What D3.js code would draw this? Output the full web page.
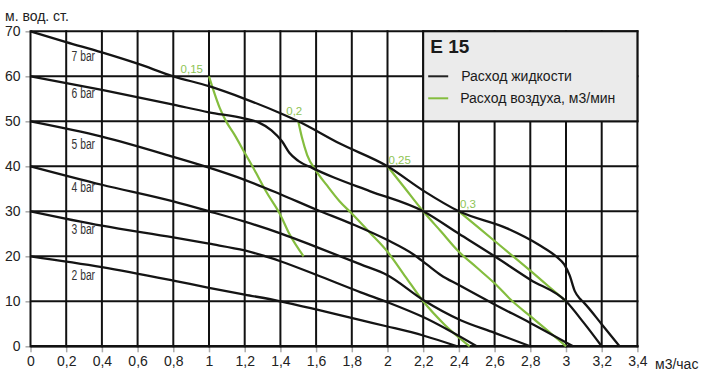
<!DOCTYPE html>
<html><head><meta charset="utf-8">
<script src="https://cdn.jsdelivr.net/npm/d3@7"></script>
<style>
body{margin:0;background:#fff;}
svg{display:block;}
text{font-family:"Liberation Sans",Arial,sans-serif;}
</style></head>
<body>
<svg id="chart" width="711" height="374"></svg>
<script>
// ---- data ----
const xTicks = [0,0.2,0.4,0.6,0.8,1,1.2,1.4,1.6,1.8,2,2.2,2.4,2.6,2.8,3,3.2,3.4];
const yTicks = [0,10,20,30,40,50,60,70];
const yTitle = "м. вод. ст.";
const xTitle = "м3/час";
const legendTitle = "E 15";
const legendLiquid = "Расход жидкости";
const legendAir = "Расход воздуха, м3/мин";

// liquid flow curves (x: m3/h, y: m water column)
const bar2 = [[0,20],[0.4,17.6],[0.8,14.6],[1,13],[1.2,11.5],[1.4,10],[1.6,8.2],[1.85,5.8],[2,4.4],[2.2,2.4],[2.39,0]];
const bar3 = [[0,30],[0.4,26.8],[0.8,24.2],[1,22.8],[1.2,21.3],[1.3,20.2],[1.4,18.9],[1.6,15.9],[1.85,12],[2,9.8],[2.2,6.5],[2.5,0]];
const bar4 = [[0,40],[0.4,35.9],[0.8,32.2],[1,30],[1.2,27.7],[1.4,25.1],[1.6,22.1],[1.85,18.2],[2,15.8],[2.2,10.3],[2.41,5.8],[2.6,3],[2.8,0]];
const bar5 = [[0,50],[0.4,46.6],[0.8,42.1],[1,39.7],[1.2,37],[1.4,33.8],[1.6,30.4],[1.8,27.2],[2,23.6],[2.15,20.3],[2.22,18.2],[2.3,15.8],[2.4,13.6],[2.6,9.3],[2.8,5.2],[3.04,0]];
const bar6 = [[0,60],[0.4,57],[0.8,53.7],[1,52],[1.2,50.6],[1.28,49.7],[1.35,48],[1.41,45.5],[1.45,43],[1.5,41.2],[1.58,39.6],[1.7,37.5],[1.9,34.5],[2.2,30],[2.4,25],[2.6,20],[2.8,14.8],[3,10],[3.1,5.2],[3.2,0]];
const bar7 = [[0,70],[0.2,67.6],[0.4,65.3],[0.6,62.8],[0.8,60],[1,57.8],[1.2,55],[1.4,51.8],[1.5,50],[1.73,45.1],[2,40],[2.2,34.6],[2.4,30],[2.67,26.2],[2.85,22.5],[2.95,19.8],[2.99,18.2],[3.02,15.8],[3.05,12.2],[3.08,10.5],[3.1,9.7],[3.2,4.9],[3.3,0]];
const liquidCurves = [bar2,bar3,bar4,bar5,bar6,bar7];
const pressureLabels = ["2 bar","3 bar","4 bar","5 bar","6 bar","7 bar"];
const pressureLabelX = [0.23,0.23,0.23,0.23,0.23,0.23];
const pressureLabelY = [14.7,25,34.3,43.8,55.1,63.3];

// air consumption curves (m3/min)
const air015 = [[1,60],[1.02,57.5],[1.06,53],[1.1,49.7],[1.14,47.2],[1.2,43],[1.26,38.8],[1.32,34.4],[1.4,29.2],[1.45,25],[1.53,20]];
const air02 = [[1.5,50],[1.52,46.5],[1.55,42.5],[1.6,39],[1.66,35.8],[1.73,32.3],[1.8,29.5],[1.9,25.3],[2,21],[2.1,15.5],[2.2,10],[2.32,4.8],[2.46,0]];
const air025 = [[2,40],[2.1,35],[2.2,30],[2.3,25.5],[2.4,21],[2.5,17.5],[2.6,14],[2.7,10],[2.8,6.7],[2.9,3.4],[3,0]];
const air03 = [[2.4,30],[2.6,23.4],[2.8,16.8],[2.9,13.4],[3,10]];
const airCurves = [air015,air02,air025,air03];
const airLabels = ["0,15","0,2","0,25","0,3"];

// ---- layout ----
const W = 711, H = 374;
const m = {left:30.5, right:73.6, top:31.3, bottom:27.7};
const svg = d3.select("#chart");
const x = d3.scaleLinear().domain([0,3.4]).range([m.left, W - m.right]);
const y = d3.scaleLinear().domain([0,70]).range([H - m.bottom, m.top]);
const fmt = d => String(+d.toFixed(1)).replace(".", ",");
const GREEN = "#84bd3e";

// ticks (gray, outside)
const xAxis = svg.append("g").attr("transform", `translate(0,${y(0)})`)
  .call(d3.axisBottom(x).tickValues(xTicks).tickSize(6).tickPadding(4).tickFormat(fmt));
xAxis.select(".domain").remove();
xAxis.selectAll("line").attr("stroke","#aaa").attr("stroke-width",1.5);
xAxis.selectAll("text").attr("font-size",14).attr("fill","#222")
  .style("font-family",'"Liberation Sans",Arial,sans-serif');

const yAxis = svg.append("g").attr("transform", `translate(${x(0)},0)`)
  .call(d3.axisLeft(y).tickValues(yTicks).tickSize(5).tickPadding(5).tickFormat(fmt));
yAxis.select(".domain").remove();
yAxis.selectAll("line").attr("stroke","#aaa").attr("stroke-width",1.5);
yAxis.selectAll("text").attr("font-size",14).attr("fill","#222")
  .style("font-family",'"Liberation Sans",Arial,sans-serif');

// grid
const grid = svg.append("g").attr("stroke","#111").attr("stroke-width",2);
grid.selectAll("line.v").data(xTicks).join("line").attr("class","v")
  .attr("x1",d=>x(d)).attr("x2",d=>x(d)).attr("y1",y(0)+1).attr("y2",y(70)-1);
grid.selectAll("line.h").data(yTicks).join("line").attr("class","h")
  .attr("x1",x(0)).attr("x2",x(3.4)+1).attr("y1",d=>y(d)).attr("y2",d=>y(d));
grid.append("line").attr("x1",x(0)).attr("x2",x(3.4)+1).attr("y1",y(0)).attr("y2",y(0)).attr("stroke-width",2.5);

// legend box
const lg = svg.append("g");
lg.append("rect").attr("x",x(2.2)).attr("y",y(70)).attr("width",x(3.4)-x(2.2)).attr("height",y(50)-y(70))
  .attr("fill","#ebebeb").attr("stroke","#111").attr("stroke-width",2);
lg.append("text").attr("x",x(2.2)+7).attr("y",y(70)+22).attr("font-size",19).attr("font-weight","bold")
  .attr("fill","#1a1a1a").text(legendTitle);
lg.append("line").attr("x1",x(2.2)+5).attr("x2",x(2.2)+25).attr("y1",y(70)+45).attr("y2",y(70)+45)
  .attr("stroke","#222").attr("stroke-width",2);
lg.append("text").attr("x",x(2.2)+38).attr("y",y(70)+50).attr("font-size",14).attr("fill","#1a1a1a").text(legendLiquid);
lg.append("line").attr("x1",x(2.2)+5).attr("x2",x(2.2)+25).attr("y1",y(70)+67).attr("y2",y(70)+67)
  .attr("stroke",GREEN).attr("stroke-width",2);
lg.append("text").attr("x",x(2.2)+37).attr("y",y(70)+72).attr("font-size",14).attr("fill","#1a1a1a").text(legendAir);

// curves
const line = d3.line().x(d=>x(d[0])).y(d=>y(d[1])).curve(d3.curveMonotoneX);
svg.append("g").selectAll("path").data(airCurves).join("path")
  .attr("d",line).attr("fill","none").attr("stroke",GREEN).attr("stroke-width",2.2);
svg.append("g").selectAll("path").data(liquidCurves).join("path")
  .attr("d",line).attr("fill","none").attr("stroke","#141414").attr("stroke-width",2.3);

// pressure labels
svg.append("g").selectAll("text").data(pressureLabels).join("text")
  .attr("x",(d,i)=>x(pressureLabelX[i])).attr("y",(d,i)=>y(pressureLabelY[i]))
  .attr("font-size",14).attr("fill","#333")
  .attr("textLength",23.5).attr("lengthAdjust","spacingAndGlyphs")
  .style("font-family",'"Liberation Sans Narrow","Liberation Sans",Arial,sans-serif')
  .text(d=>d);

// air labels
const airDx = [-6,-12,1,1];
const airDy = [-3,-6,-2,-3];
const airAnchor = ["end","start","start","start"];
svg.append("g").selectAll("text").data(airLabels).join("text")
  .attr("x",(d,i)=>x(airCurves[i][0][0]) + airDx[i])
  .attr("y",(d,i)=>y(airCurves[i][0][1]) + airDy[i])
  .attr("text-anchor",(d,i)=>airAnchor[i])
  .attr("font-size",11.5).attr("fill","#8fc455").text(d=>d);

// titles
svg.append("text").attr("x",5).attr("y",21).attr("font-size",14).attr("fill","#222").text(yTitle);
svg.append("text").attr("x",655).attr("y",369).attr("font-size",14).attr("fill","#222").text(xTitle);
</script>
</body></html>
